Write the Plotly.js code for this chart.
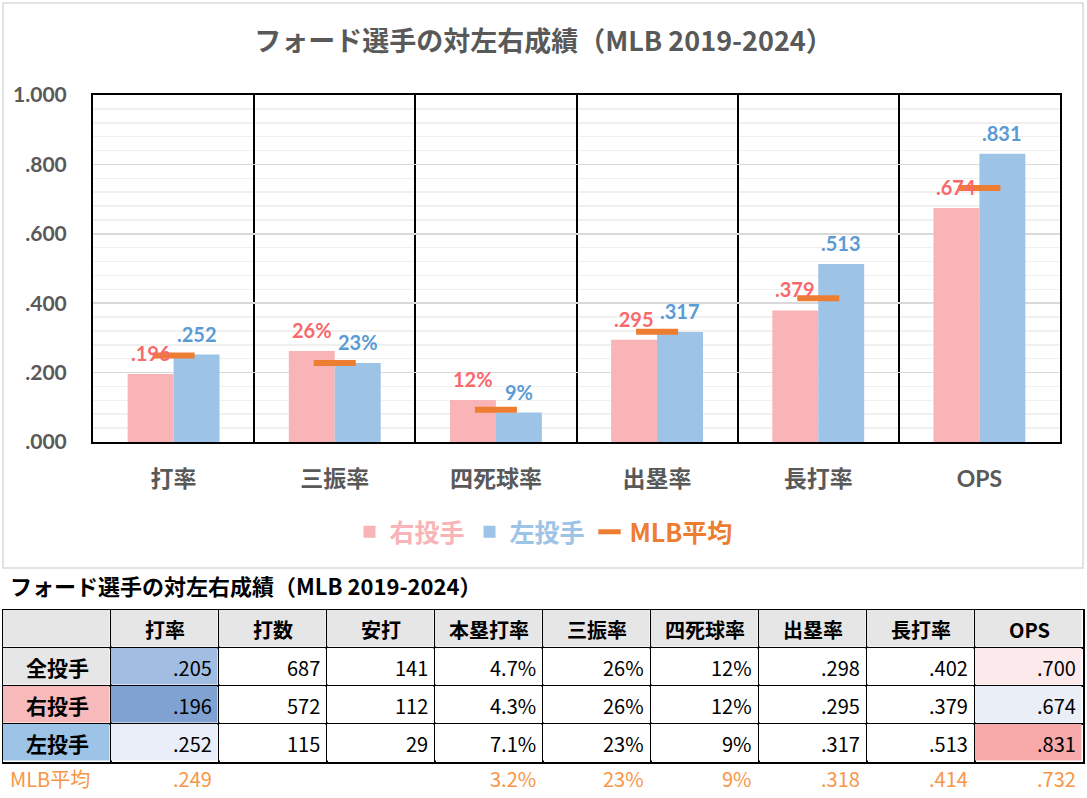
<!DOCTYPE html>
<html><head><meta charset="utf-8">
<script src="https://cdn.plot.ly/plotly-3.0.1.min.js"></script>
<style>html,body{margin:0;padding:0;background:#fff}#chart{width:1087px;height:798px}</style>
</head><body><div id="chart"></div>
<script>
// ---- chart data ----
const categories = ['打率', '三振率', '四死球率', '出塁率', '長打率', 'OPS'];
const isPercent  = [false, true, true, false, false, false];
const rightVals  = [0.196, 0.262, 0.121, 0.295, 0.379, 0.674];
const leftVals   = [0.252, 0.228, 0.085, 0.317, 0.513, 0.831];
const mlbVals    = [0.249, 0.228, 0.093, 0.318, 0.414, 0.732];
const yTickVals  = [0, 0.2, 0.4, 0.6, 0.8, 1.0];
const yTickText  = ['.000', '.200', '.400', '.600', '.800', '1.000'];

// ---- table data ----
const chartTitle   = 'フォード選手の対左右成績（MLB 2019-2024）';
const tableHeaders = ['', '打率', '打数', '安打', '本塁打率', '三振率', '四死球率', '出塁率', '長打率', 'OPS'];
const rowLabels    = ['全投手', '右投手', '左投手'];
const rowAll       = ['.205', '687', '141', '4.7%', '26%', '12%', '.298', '.402', '.700'];
const rowRight     = ['.196', '572', '112', '4.3%', '26%', '12%', '.295', '.379', '.674'];
const rowLeft      = ['.252', '115', '29', '7.1%', '23%', '9%', '.317', '.513', '.831'];
const mlbLabel     = 'MLB平均';
const rowMLB       = ['.249', '', '', '3.2%', '23%', '9%', '.318', '.414', '.732'];

// ---- styling ----
const W = 1087, H = 798;
const fx = p => p / W, fy = p => 1 - p / H;
const LAT = 'Lato, "Noto Sans CJK JP", sans-serif';
const CJK = '"Noto Sans CJK JP", sans-serif';
const PINK = '#F8B4B6', BLUE = '#9DC3E6', ORANGE = '#ED7D31';
const PINK_TXT = '#F8696B', BLUE_TXT = '#5B9BD5';

// cell fill colours (header row, then one row per pitcher group)
const G = '#E7E6E6', Wh = '#FFFFFF';
const cellFills = [
  [G, G, G, G, G, G, G, G, G, G],
  [G, '#A2BDE2', Wh, Wh, Wh, Wh, Wh, Wh, Wh, '#FCE9EC'],
  ['#F8B9BB', '#7FA2D3', Wh, Wh, Wh, Wh, Wh, Wh, Wh, '#E9EEF7'],
  ['#9DC3E6', '#E9EEF8', Wh, Wh, Wh, Wh, Wh, Wh, Wh, '#F8A9AA']
];

function fmt(v, pct) {
  if (pct) return Math.round(v * 100) + '%';
  const s = v.toFixed(3);
  return s.startsWith('0') ? s.slice(1) : s;
}

const traces = [
  { type: 'bar', x: categories, y: rightVals, name: '<b><span style="color:' + PINK + '">右投手</span></b>',
    marker: { color: PINK }, hoverinfo: 'skip' },
  { type: 'bar', x: categories, y: leftVals, name: '<b><span style="color:' + BLUE + '">左投手</span></b>',
    marker: { color: BLUE }, hoverinfo: 'skip' },
  { type: 'scatter', mode: 'markers', x: categories, y: mlbVals,
    name: '<b><span style="color:' + ORANGE + '">MLB平均</span></b>',
    marker: { symbol: 'line-ew', size: 30, color: ORANGE, line: { color: ORANGE, width: 6 } },
    hoverinfo: 'skip', cliponaxis: false }
];

// ---- table as heatmap of cells ----
const palette = [];
cellFills.forEach(r => r.forEach(c => { if (!palette.includes(c)) palette.push(c); }));
const zIdx = cellFills.map(r => r.map(c => palette.indexOf(c)));
const nC = palette.length;
const colorscale = palette.map((c, i) => [i / (nC - 1), c]);
const colIdx = tableHeaders.map((_, i) => i);
const rowIdx = cellFills.map((_, i) => i);

traces.push({
  type: 'heatmap', xaxis: 'x2', yaxis: 'y2', x: colIdx, y: rowIdx, z: zIdx,
  zmin: 0, zmax: nC - 1, colorscale: colorscale, showscale: false,
  xgap: 1.5, ygap: 1.5, hoverinfo: 'skip'
});

const annotations = [];
categories.forEach((c, i) => {
  annotations.push({ x: c, y: rightVals[i], xref: 'x', yref: 'y', text: fmt(rightVals[i], isPercent[i]),
    showarrow: false, yanchor: 'bottom', xshift: -23, yshift: 7,
    font: { family: LAT, size: 20, color: PINK_TXT, weight: 'bold' } });
  annotations.push({ x: c, y: leftVals[i], xref: 'x', yref: 'y', text: fmt(leftVals[i], isPercent[i]),
    showarrow: false, yanchor: 'bottom', xshift: 23, yshift: 7,
    font: { family: LAT, size: 20, color: BLUE_TXT, weight: 'bold' } });
});
annotations.push({ xref: 'paper', yref: 'paper', x: fx(8), y: fy(585), xanchor: 'left', yanchor: 'middle',
  text: '<b>' + chartTitle + '</b>', showarrow: false, font: { family: CJK, size: 22, color: '#000000' } });

const tFont = { family: CJK, size: 20, color: '#000000' };
const HALF = 49;
tableHeaders.forEach((h, c) => {
  if (h) annotations.push({ xref: 'x2', yref: 'y2', x: c, y: 0, text: '<b>' + h + '</b>', showarrow: false,
    xanchor: 'center', yanchor: 'middle', font: tFont });
});
[rowAll, rowRight, rowLeft].forEach((row, r) => {
  annotations.push({ xref: 'x2', yref: 'y2', x: 0, y: r + 1, text: '<b>' + rowLabels[r] + '</b>', showarrow: false,
    xanchor: 'center', yanchor: 'middle', font: { family: CJK, size: 21, color: '#000000' } });
  row.forEach((v, c) => annotations.push({ xref: 'x2', yref: 'y2', x: c + 1, y: r + 1, text: v, showarrow: false,
    xanchor: 'right', yanchor: 'middle', xshift: HALF, font: tFont }));
});
// MLB average row, below the table
const mFont = { family: CJK, size: 20, color: '#F79646' };
const mlbY = fy(778);
annotations.push({ xref: 'x2', yref: 'paper', x: 0, y: mlbY, text: mlbLabel, showarrow: false,
  xanchor: 'left', yanchor: 'middle', xshift: -HALF, font: mFont });
rowMLB.forEach((v, c) => { if (v) annotations.push({ xref: 'x2', yref: 'paper', x: c + 1, y: mlbY, text: v, showarrow: false,
  xanchor: 'right', yanchor: 'middle', xshift: HALF, font: mFont }); });

const colBounds = [-0.5].concat(colIdx.map(i => i + 0.5));
const rowBounds = [-0.5].concat(rowIdx.map(i => i + 0.5));

const layout = {
  width: W, height: H, margin: { l: 0, r: 0, t: 0, b: 0 },
  paper_bgcolor: '#FFFFFF', plot_bgcolor: '#FFFFFF',
  title: { text: '<b>' + chartTitle + '</b>', x: 0.5, xanchor: 'center', xref: 'paper',
    y: fy(42), yanchor: 'middle', yref: 'container',
    font: { family: CJK, size: 27, color: '#595959' } },
  barmode: 'group', bargap: 0.43, bargroupgap: 0,
  showlegend: true,
  legend: { orientation: 'h', x: 0.5, xanchor: 'center', y: fy(532), yanchor: 'middle',
    font: { family: CJK, size: 25 }, bgcolor: 'rgba(0,0,0,0)', traceorder: 'normal' },
  xaxis: { domain: [fx(93), fx(1060)], type: 'category', tickson: 'boundaries',
    showgrid: true, gridcolor: '#000000', gridwidth: 2, ticks: '',
    showline: true, mirror: true, linecolor: '#000000', linewidth: 2,
    ticklabelstandoff: 15, tickfont: { family: LAT, size: 23, color: '#595959', weight: 'bold' } },
  yaxis: { domain: [fy(442), fy(95)], range: [0, 1], tickvals: yTickVals, ticktext: yTickText,
    showgrid: true, gridcolor: '#D9D9D9', gridwidth: 1.5, zeroline: false,
    minor: { dtick: 0.04, showgrid: true, gridcolor: '#F0F0F0', gridwidth: 1.5 },
    showline: true, mirror: true, linecolor: '#000000', linewidth: 2, ticks: '',
    ticklabelstandoff: 20, tickfont: { family: LAT, size: 21, color: '#595959', weight: 'bold' } },
  xaxis2: { domain: [fx(3), fx(1083)], anchor: 'y2', range: [-0.5, tableHeaders.length - 0.5],
    tickvals: colBounds, showticklabels: false, ticks: '', showgrid: true, gridcolor: '#000000', gridwidth: 1.5,
    zeroline: false, showline: true, mirror: true, linecolor: '#000000', linewidth: 1.5 },
  yaxis2: { domain: [fy(762), fy(610)], anchor: 'x2', range: [cellFills.length - 0.5, -0.5],
    tickvals: rowBounds, showticklabels: false, ticks: '', showgrid: true, gridcolor: '#000000', gridwidth: 1.5,
    zeroline: false, showline: true, mirror: true, linecolor: '#000000', linewidth: 1.5 },
  shapes: [{ type: 'rect', xref: 'paper', yref: 'paper', x0: fx(3), x1: fx(1083), y0: fy(568), y1: fy(3),
    line: { color: '#D9D9D9', width: 1.5 }, layer: 'below' }],
  annotations: annotations
};

Plotly.newPlot('chart', traces, layout, { displayModeBar: false, staticPlot: true });
</script></body></html>
